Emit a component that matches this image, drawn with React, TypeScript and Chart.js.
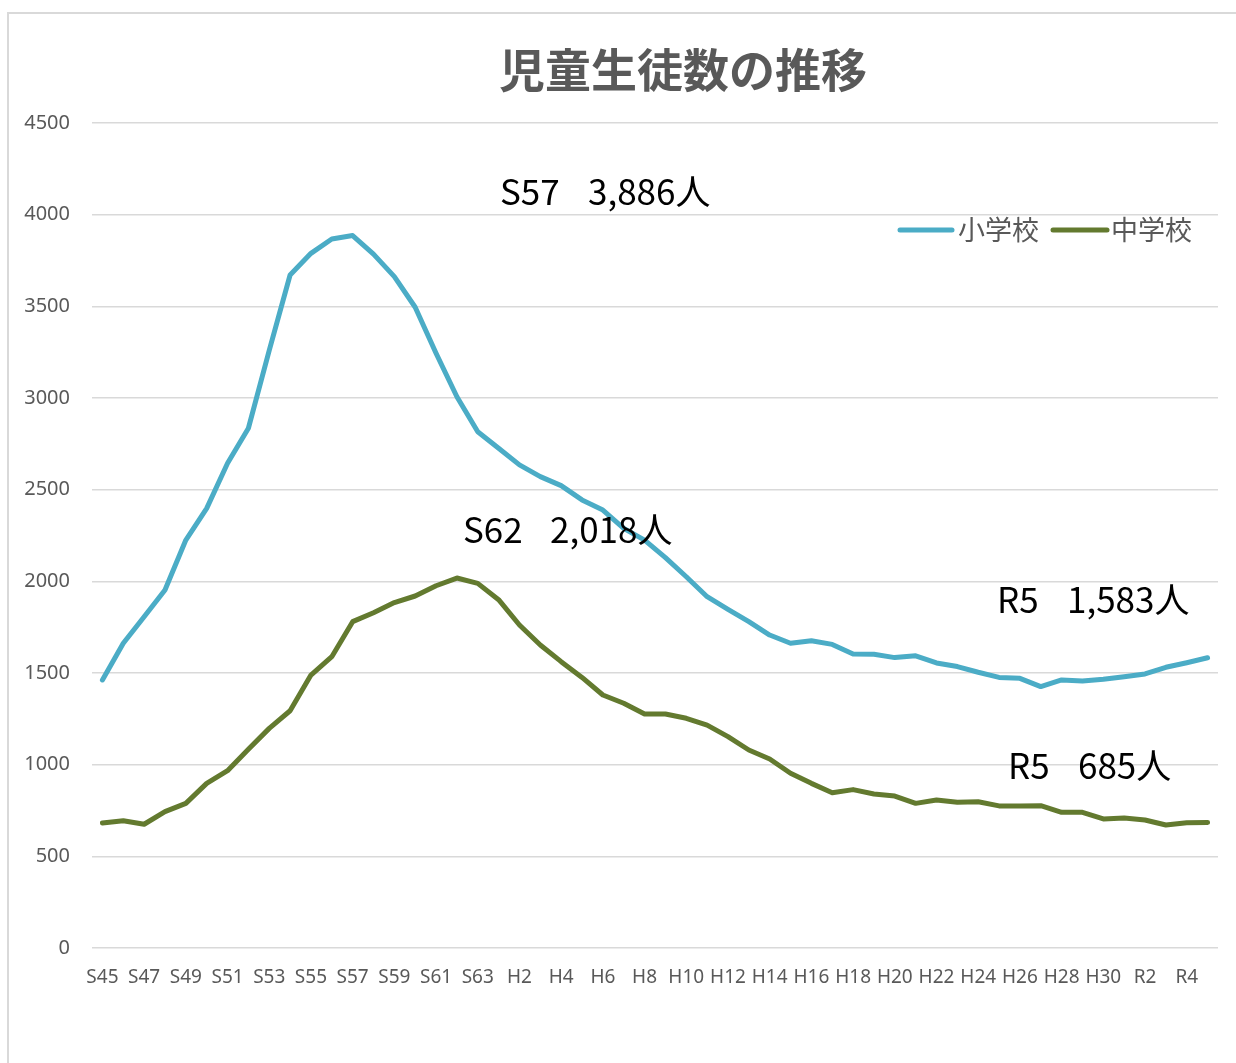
import React, { useEffect, useRef } from 'react';
import { Chart, registerables } from 'chart.js';

Chart.register(...registerables);

// ---- data ----
const categories = [
  'S45', 'S46', 'S47', 'S48', 'S49', 'S50', 'S51', 'S52', 'S53', 'S54',
  'S55', 'S56', 'S57', 'S58', 'S59', 'S60', 'S61', 'S62', 'S63',
  'H1', 'H2', 'H3', 'H4', 'H5', 'H6', 'H7', 'H8', 'H9', 'H10',
  'H11', 'H12', 'H13', 'H14', 'H15', 'H16', 'H17', 'H18', 'H19', 'H20',
  'H21', 'H22', 'H23', 'H24', 'H25', 'H26', 'H27', 'H28', 'H29', 'H30',
  'R1', 'R2', 'R3', 'R4', 'R5',
];

const elementary = [
  1462, 1662, 1807, 1953, 2225, 2398, 2644, 2835, 3260, 3671,
  3789, 3867, 3886, 3785, 3662, 3495, 3244, 3007, 2816,
  2726, 2635, 2571, 2522, 2444, 2389, 2289, 2225, 2129, 2025,
  1916, 1847, 1780, 1707, 1662, 1676, 1656, 1604, 1602, 1584,
  1594, 1555, 1535, 1504, 1476, 1471, 1426, 1462, 1456, 1466,
  1480, 1495, 1531, 1556, 1583,
];

const juniorHigh = [
  682, 694, 675, 744, 789, 898, 967, 1084, 1198, 1294,
  1489, 1589, 1780, 1829, 1884, 1920, 1976, 2018, 1989,
  1900, 1762, 1653, 1562, 1476, 1380, 1335, 1276, 1276, 1253,
  1216, 1153, 1080, 1031, 953, 898, 847, 864, 840, 829,
  789, 807, 795, 798, 775, 775, 776, 740, 740, 704,
  709, 698, 671, 683, 685,
];

const seriesNames = ['小学校', '中学校'];
const titleText = '児童生徒数の推移';
const calloutTexts = [
  ['S57', '3,886人'],
  ['S62', '2,018人'],
  ['R5', '1,583人'],
  ['R5', '685人'],
];

// ---- styling / layout ----
const COLORS = ['#4BACC6', '#637A2F'];
const TEXT_GRAY = '#595959';
const JP_FONT = '"Noto Sans CJK JP", "Noto Sans", sans-serif';
const calloutLayout = [
  { x1: 500, x2: 588, y: 205 },
  { x1: 463, x2: 550, y: 543 },
  { x1: 997, x2: 1067, y: 613 },
  { x1: 1008, x2: 1078, y: 779 },
];
const legendLayout = [
  { lx1: 900, lx2: 952, tx: 958 },
  { lx1: 1053, lx2: 1107, tx: 1111 },
];
const LEGEND_Y = 230;

const overlayPlugin = {
  id: 'overlay',
  afterDraw(chart: any) {
    const ctx = chart.ctx;
    ctx.save();
    // title
    ctx.fillStyle = TEXT_GRAY;
    ctx.font = `bold 46px ${JP_FONT}`;
    ctx.textAlign = 'center';
    ctx.textBaseline = 'middle';
    ctx.fillText(titleText, 683, 70);

    // callouts
    ctx.fillStyle = '#000000';
    ctx.font = `35px ${JP_FONT}`;
    ctx.textAlign = 'left';
    ctx.textBaseline = 'alphabetic';
    calloutTexts.forEach((parts, i) => {
      const p = calloutLayout[i];
      ctx.fillText(parts[0], p.x1, p.y);
      ctx.fillText(parts[1], p.x2, p.y);
    });

    // legend
    ctx.font = `27px ${JP_FONT}`;
    ctx.textBaseline = 'middle';
    chart.data.datasets.forEach((ds: any, i: number) => {
      const l = legendLayout[i];
      ctx.strokeStyle = ds.borderColor;
      ctx.lineWidth = 5;
      ctx.lineCap = 'round';
      ctx.beginPath();
      ctx.moveTo(l.lx1, LEGEND_Y);
      ctx.lineTo(l.lx2, LEGEND_Y);
      ctx.stroke();
      ctx.fillStyle = TEXT_GRAY;
      ctx.fillText(ds.label, l.tx, LEGEND_Y);
    });
    ctx.restore();
  },
};

export default function App() {
  const canvasRef = useRef<HTMLCanvasElement | null>(null);

  useEffect(() => {
    const canvas = canvasRef.current;
    if (!canvas) return;
    const chart = new Chart(canvas, {
      type: 'line',
      data: {
        labels: categories,
        datasets: [
          {
            label: seriesNames[0],
            data: elementary,
            borderColor: COLORS[0],
            backgroundColor: COLORS[0],
            borderWidth: 5,
            pointRadius: 0,
            tension: 0,
            borderJoinStyle: 'round',
            borderCapStyle: 'round',
          },
          {
            label: seriesNames[1],
            data: juniorHigh,
            borderColor: COLORS[1],
            backgroundColor: COLORS[1],
            borderWidth: 5,
            pointRadius: 0,
            tension: 0,
            borderJoinStyle: 'round',
            borderCapStyle: 'round',
          },
        ],
      },
      options: {
        responsive: false,
        animation: false,
        layout: { padding: { left: 0, right: 18, top: 123, bottom: 0 } },
        plugins: {
          legend: { display: false },
          title: { display: false },
          tooltip: { enabled: false },
        },
        scales: {
          x: {
            offset: true,
            grid: { display: false, drawTicks: false },
            border: { display: false },
            ticks: {
              autoSkip: false,
              maxRotation: 0,
              minRotation: 0,
              padding: 18,
              color: TEXT_GRAY,
              font: { family: '"Noto Sans", sans-serif', size: 19 },
              callback: (_v: any, i: number) => (i % 2 === 0 ? categories[i] : ''),
            },
            afterFit: (scale: any) => {
              scale.height = 1063 - 948;
            },
          },
          y: {
            min: 0,
            max: 4500,
            grid: { color: '#D9D9D9', lineWidth: 1.5, drawTicks: false },
            border: { display: false },
            ticks: {
              stepSize: 500,
              padding: 22,
              color: TEXT_GRAY,
              font: { family: '"Noto Sans", sans-serif', size: 20 },
              callback: (v: any) => String(v),
            },
            afterFit: (scale: any) => {
              scale.width = 92;
            },
          },
        },
      },
      plugins: [overlayPlugin],
    });
    return () => chart.destroy();
  }, []);

  return (
    <>
      <div
        style={{
          position: 'absolute',
          left: 7,
          top: 12,
          width: 1250,
          height: 1070,
          border: '2px solid #D9D9D9',
          boxSizing: 'border-box',
        }}
      />
      <canvas
        ref={canvasRef}
        width={1236}
        height={1063}
        style={{ position: 'absolute', left: 0, top: 0, width: 1236, height: 1063 }}
      />
    </>
  );
}
